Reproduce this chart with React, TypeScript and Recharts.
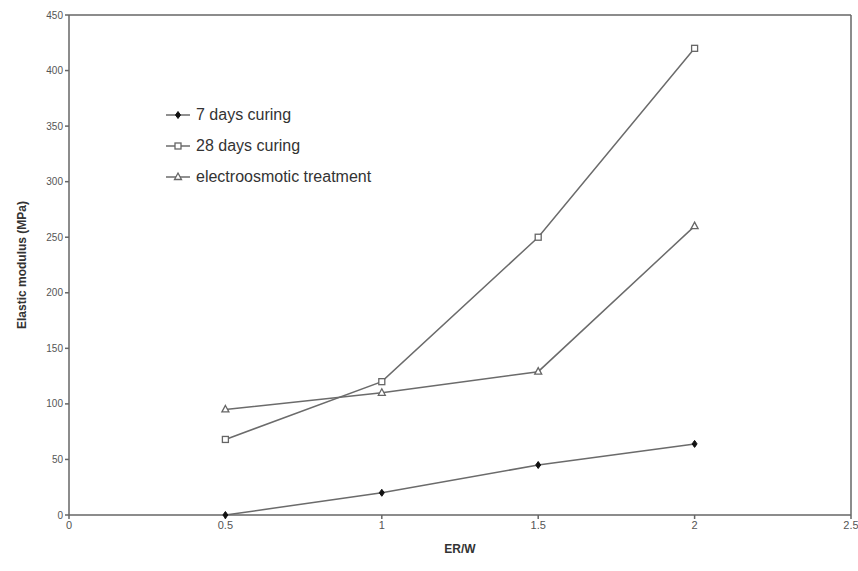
import React from "react";
import { Line, LineChart, ReferenceLine, XAxis, YAxis } from "recharts";

const erw = [0.5, 1, 1.5, 2];
const days7 = [0, 20, 45, 64];
const days28 = [68, 120, 250, 420];
const electro = [95, 110, 129, 260];
const xTicks = [0, 0.5, 1, 1.5, 2, 2.5];
const yTicks = [0, 50, 100, 150, 200, 250, 300, 350, 400, 450];

const data = erw.map((x, i) => ({
  x,
  d7: days7[i],
  d28: days28[i],
  eo: electro[i],
}));

const LINE = "#6b6b6b";
const AXIS = "#666";
const FONT = "Liberation Sans, Arial, sans-serif";

const Diamond = ({ cx, cy }: any) => (
  <path
    d={`M${cx},${cy - 3.5}L${cx + 2.5},${cy}L${cx},${cy + 3.5}L${cx - 2.5},${cy}Z`}
    fill="#111"
    stroke="#111"
  />
);

const Square = ({ cx, cy }: any) => (
  <rect x={cx - 3} y={cy - 3} width={6} height={6} fill="#fff" stroke="#666" strokeWidth={1.3} />
);

const Triangle = ({ cx, cy }: any) => (
  <path
    d={`M${cx},${cy - 4}L${cx + 3.5},${cy + 2.5}L${cx - 3.5},${cy + 2.5}Z`}
    fill="#fff"
    stroke="#666"
    strokeWidth={1.3}
  />
);

const legendItems = [
  { label: "7 days curing", Mark: Diamond },
  { label: "28 days curing", Mark: Square },
  { label: "electroosmotic treatment", Mark: Triangle },
];

// legend sits inside the plot area, so it is laid over the chart
const LegendBox = () => (
  <div
    style={{
      position: "absolute",
      left: 165,
      top: 99,
      fontFamily: FONT,
      fontSize: 16,
      color: "#333",
      pointerEvents: "none",
    }}
  >
    {legendItems.map(({ label, Mark }) => (
      <div key={label} style={{ display: "flex", alignItems: "center", height: 31 }}>
        <svg width={28} height={12} style={{ marginRight: 3 }}>
          <line x1={1} y1={6} x2={25} y2={6} stroke={LINE} strokeWidth={1.5} />
          <Mark cx={13} cy={6} />
        </svg>
        <span>{label}</span>
      </div>
    ))}
  </div>
);

export default function App() {
  return (
    <div style={{ position: "absolute", left: 0, top: 0, width: 858, height: 571, background: "#fff" }}>
      <LineChart
        width={858}
        height={571}
        data={data}
        margin={{ top: 15, right: 7, bottom: 26, left: 40 }}
      >
        <XAxis
          dataKey="x"
          type="number"
          domain={[0, 2.5]}
          ticks={xTicks}
          height={30}
          stroke={AXIS}
          strokeWidth={1.5}
          tickSize={4}
          tick={{ fontSize: 11, fill: "#555", fontFamily: FONT }}
          label={{
            value: "ER/W",
            position: "insideBottom",
            offset: -8,
            style: { fontSize: 12, fontWeight: "bold", fill: "#333", fontFamily: FONT },
          }}
        />
        <YAxis
          type="number"
          domain={[0, 450]}
          ticks={yTicks}
          width={29}
          stroke={AXIS}
          strokeWidth={1.5}
          tickSize={4}
          tick={{ fontSize: 10, fill: "#555", fontFamily: FONT }}
          label={{
            value: "Elastic modulus (MPa)",
            angle: -90,
            position: "insideLeft",
            offset: -18,
            style: { textAnchor: "middle", fontSize: 12, fontWeight: "bold", fill: "#333", fontFamily: FONT },
          }}
        />
        <ReferenceLine y={450} stroke={AXIS} strokeWidth={1.5} />
        <ReferenceLine x={2.5} stroke={AXIS} strokeWidth={1.5} />
        <Line
          dataKey="d7"
          stroke={LINE}
          strokeWidth={1.5}
          dot={<Diamond />}
          activeDot={false}
          isAnimationActive={false}
        />
        <Line
          dataKey="d28"
          stroke={LINE}
          strokeWidth={1.5}
          dot={<Square />}
          activeDot={false}
          isAnimationActive={false}
        />
        <Line
          dataKey="eo"
          stroke={LINE}
          strokeWidth={1.5}
          dot={<Triangle />}
          activeDot={false}
          isAnimationActive={false}
        />
      </LineChart>
      <LegendBox />
    </div>
  );
}
